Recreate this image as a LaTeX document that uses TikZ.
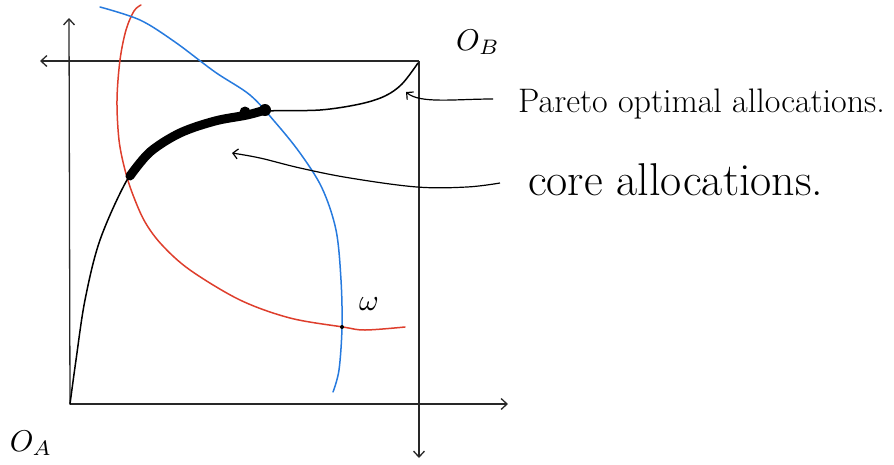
\documentclass[tikz,border=0pt]{standalone}
\usetikzlibrary{arrows.meta}
\definecolor{redc}{RGB}{222,62,44}
\definecolor{bluec}{RGB}{38,122,222}
\definecolor{axc}{RGB}{40,40,40}
\tikzset{
  axis/.style={draw=axc, line width=1.3pt, -{Straight Barb[length=6pt,width=11pt,line width=1.3pt]}},
  curve/.style={line width=1.5pt, line cap=round, line join=round},
  note/.style={draw=black, line width=1.2pt, -{Straight Barb[length=5pt,width=10pt,line width=1.2pt]}},
  lbl/.style={font=\fontsize{34}{38}\selectfont, inner sep=0pt, anchor=base west},
  orig/.style={scale=3, inner sep=0pt}
}
\begin{document}
\begin{tikzpicture}[x=1pt,y=-1pt]
\useasboundingbox (0,0) rectangle (894,464);
% coordinates of the box
\coordinate (OA) at (70,404);
\coordinate (OB) at (419,61);
\coordinate (Aup) at (69,18);
\coordinate (Aright) at (508,404);
\coordinate (Bleft) at (40,61);
\coordinate (Bdown) at (419,458);
% axes
\draw[axis] (OA) -- (Aup);
\draw[axis] (OA) -- (Aright);
\draw[axis] (OB) -- (Bleft);
\draw[axis] (OB) -- (Bdown);
% red indifference curve
\draw[curve, redc] plot[smooth, tension=0.55] coordinates {
 (141,5) (134,11) (126,30) (120,60) (117,100) (119,140) (125,170) (133,195)
 (145,222) (162,245) (190,270) (240,300) (290,318) (343,327) (365,330) (405,327)};
% blue indifference curve
\draw[curve, bluec] plot[smooth, tension=0.55] coordinates {
 (100,7) (140,20) (175,42) (215,72) (250,95) (275,122) (300,153) (322,188)
 (336,230) (341,280) (342,327) (339,370) (333,392)};
% contract curve (Pareto optimal allocations)
\draw[curve, black] plot[smooth, tension=0.55] coordinates {
 (70,404) (76,360) (85,300) (100,240) (127,180) (150,152) (180,133) (215,121)
 (247,115) (267,111) (320,110) (360,104) (385,96) (402,84) (418,63)};
% core (thick part)
\draw[black, line width=9pt, line cap=round, line join=round] plot[smooth, tension=0.55] coordinates {
 (130,176) (150,152) (180,133) (215,121) (247,115) (265,110)};
\fill[black] (245,112) circle (5.5pt);
\fill[black] (265,110) circle (6pt);
% endowment
\fill[black] (342,327) circle (2pt);
\node[scale=3, inner sep=0pt] (omega) at (369,304) {$\omega$};
% origins
\node[orig] (lOB) at (478,42) {$O_B$};
\node[orig] (lOA) at (31,443) {$O_A$};
% labels
\node[lbl] (pareto) at (518,112) {Pareto optimal allocations.};
\node[lbl, font=\fontsize{46}{50}\selectfont] (core) at (528,195) {core allocations.};
% annotation arrows
\coordinate (pS) at (493,99);
\coordinate (pA) at (406,92);
\coordinate (cS) at (500,183);
\coordinate (cA) at (232,153);
\draw[note] (pS) .. controls (455,99) and (420,104) .. (pA);
\draw[note] plot[smooth, tension=0.6] coordinates {
 (cS) (467,187) (417,187) (350,178) (300,168) (260,158) (cA)};
\end{tikzpicture}
\end{document}
